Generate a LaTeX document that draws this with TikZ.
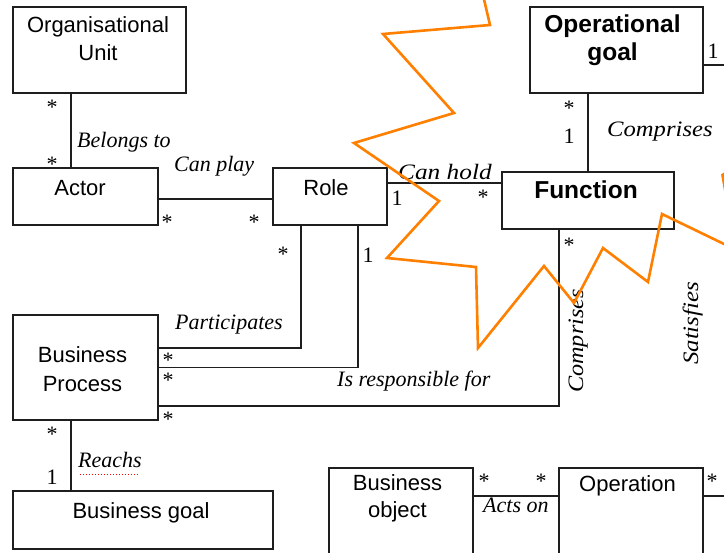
\documentclass[tikz,border=0pt]{standalone}
\usepackage{fontspec}
\setmainfont{Liberation Serif}
\newfontfamily\boxfont{Liberation Sans}
\usetikzlibrary{calc}
\definecolor{ink}{HTML}{1E1E1E}
\definecolor{burstorange}{HTML}{FF8000}
\begin{document}
\begin{tikzpicture}[x=1pt,y=-1pt,
  umlbox/.style={draw=ink, line width=1.5pt, inner sep=0pt, outer sep=0pt},
  boxtext/.style={font=\boxfont\fontsize{22}{28}\selectfont, anchor=base, inner sep=0pt},
  boldtext/.style={font=\boxfont\bfseries\fontsize{24.5}{28}\selectfont, anchor=base, inner sep=0pt},
  assoc/.style={draw=ink, line width=1.5pt},
  rolename/.style={font=\itshape\fontsize{22}{26}\selectfont, anchor=base west, inner sep=0pt},
  mult/.style={font=\fontsize{22}{26}\selectfont, anchor=base, inner sep=0pt},
  burst/.style={draw=burstorange, line width=2.6pt, line join=miter}]
\useasboundingbox (0,0) rectangle (724,553);
\clip (0,0) rectangle (724,553);
\fill[white] (0,0) rectangle (724,553);

% classes
\node[umlbox, minimum width=173pt, minimum height=86pt]  (ou)    at (99.5,50)   {};
\node[umlbox, minimum width=145pt, minimum height=57pt]  (actor) at (85.5,196.5) {};
\node[umlbox, minimum width=114pt, minimum height=57pt]  (role)  at (330,196.5)  {};
\node[umlbox, minimum width=172pt, minimum height=57pt]  (func)  at (588,200.5)  {};
\node[umlbox, minimum width=173pt, minimum height=86pt]  (og)    at (616.5,50)   {};
\node[umlbox, minimum width=145pt, minimum height=105pt] (bp)    at (85.5,367.5) {};
\node[umlbox, minimum width=260pt, minimum height=58pt]  (bg)    at (143,520)    {};
\node[umlbox, minimum width=144pt, minimum height=112pt] (bo)    at (401,524)    {};
\node[umlbox, minimum width=144pt, minimum height=112pt] (op)    at (631,524)    {};

% class names
\node[boxtext]  (ou1)  at (98,32.5)   {Organisational};
\node[boxtext]  (ou2)  at (98,60.5)   {Unit};
\node[boxtext]  (actorname) at (80,196) {Actor};
\node[boxtext]  (rolename)  at (326,196) {Role};
\node[boldtext] (funcname)  at (586,199) {Function};
\node[boldtext] (og1)  at (612.5,33)  {Operational};
\node[boldtext] (og2)  at (612.5,61)  {goal};
\node[boxtext]  (bp1)  at (82.5,363)  {Business};
\node[boxtext]  (bp2)  at (82.5,392)  {Process};
\node[boxtext]  (bgname) at (141,519) {Business goal};
\node[boxtext]  (bo1)  at (397.5,491) {Business};
\node[boxtext]  (bo2)  at (397.5,518) {object};
\node[boxtext]  (opname) at (627.5,492) {Operation};

% associations
\coordinate (ogout) at (735,65);
\coordinate (opout) at (735,496);
\draw[assoc] ([xshift=58pt]ou.south west) -- ([xshift=58pt]actor.north west);
\draw[assoc] ([yshift=-2.5pt]actor.east) -- ([yshift=-2.5pt]role.west);
\draw[assoc] ([yshift=13.5pt]role.east) -- ([yshift=13.5pt]role.east -| func.west);
\draw[assoc] (og.south -| func.north) -- (func.north);
\draw[assoc] ([yshift=-15pt]og.east) -- (ogout);
\draw[assoc] ([xshift=28pt]role.south west) |- ([yshift=19.5pt]bp.east);
\draw[assoc] ([xshift=-29pt]role.south east) |- (bp.east);
\draw[assoc] ([xshift=57pt]func.south west) |- ([yshift=-38.5pt]bp.east);
\draw[assoc] ([xshift=58pt]bp.south west) -- ([xshift=58pt]bg.north west);
\draw[assoc] ([yshift=-28pt]bo.north east) -- ([yshift=-28pt]op.north west);
\draw[assoc] ([yshift=-28pt]op.north east) -- (opout);

% association names
\node[rolename] (belongs) at (77,148)  {Belongs to};
\node[rolename] (canplay) at (174,172) {Can play};
\node[rolename] (canhold) at (398,180) {\scalebox{1.15}[1]{Can hold}};
\node[rolename] (comp1)   at (607,137) {\scalebox{1.12}[1]{Comprises}};
\node[rolename] (partic)  at (175,330) {Participates};
\node[rolename] (respons) at (337,387) {Is responsible for};
\node[rolename] (reachs)  at (78,468)  {Reachs};
\node[rolename] (actson)  at (483,513) {Acts on};
\node[rolename, rotate=90] (comp2) at (583,393) {\scalebox{1.1}[1]{Comprises}};
\node[rolename, rotate=90] (satis) at (698,365) {\scalebox{1.13}[1]{Satisfies}};
\draw[red, line width=1pt, dotted] (80,475) -- (139,475);

% multiplicities
\foreach \x/\y [count=\i] in {52/115, 52/172, 167/230, 254/230, 283/262,
    483/205, 569/116, 569/253, 168/368, 168/388, 168/427, 52/442,
    484/489, 541/489, 712/489}
  \node[mult] (star\i) at (\x,\y) {*};
\foreach \x/\y [count=\i] in {397/205.5, 368/262.5, 569/144, 713/59, 52/485}
  \node[mult] (one\i) at (\x,\y) {1};

% burst outline
\draw[burst] (483,-5) -- (490,25) -- (383,34) -- (454,113) -- (354,143)
  -- (439,201) -- (387,258) -- (476,267) -- (478,348) -- (544,266)
  -- (574,303) -- (603,248) -- (648,282) -- (662,214) -- (724,244) -- (740,252);
\draw[burst] (730,170) -- (722.5,175) -- (726,195);
\end{tikzpicture}
\end{document}
